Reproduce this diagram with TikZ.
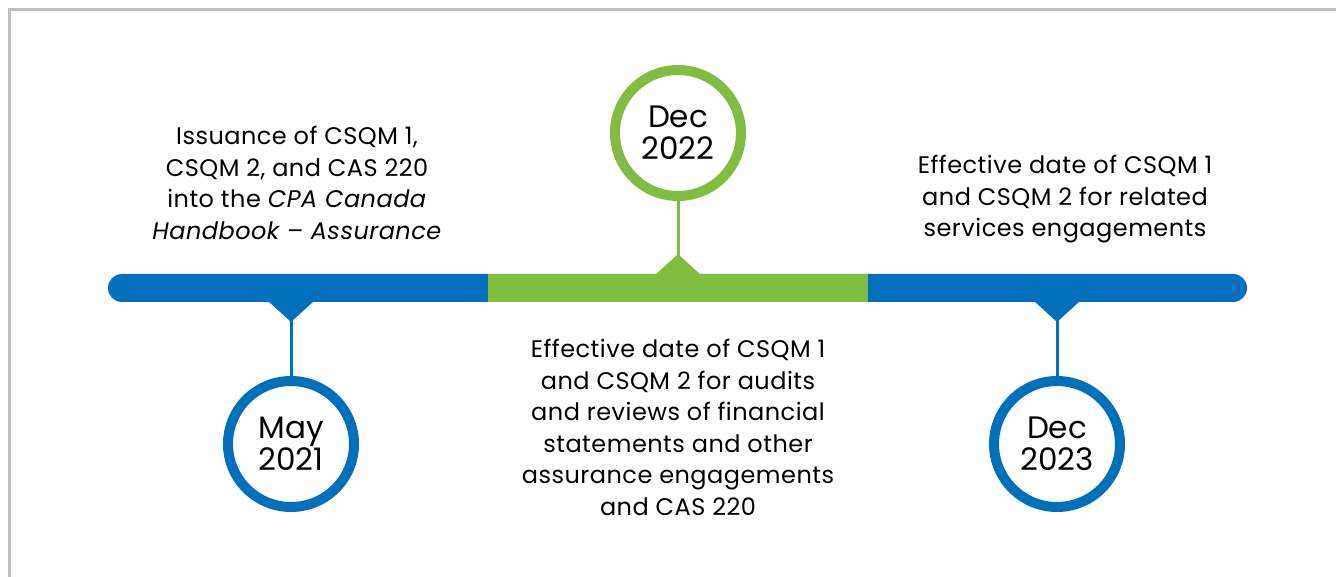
\documentclass[tikz,border=0pt]{standalone}
\usepackage{fontspec}
\setmainfont{Poppins}
\definecolor{tlblue}{RGB}{0,112,186}
\definecolor{tlgreen}{RGB}{128,189,65}
\definecolor{framegray}{RGB}{192,192,192}
\begin{document}
\begin{tikzpicture}[x=1pt,y=-1pt,
  datering/.style={circle, draw=#1, line width=10pt, fill=white,
    minimum size=126pt, inner sep=0pt, align=center,
    font=\fontsize{31}{32}\selectfont},
  stem/.style={draw=#1, line width=3pt},
  note/.style={align=center, inner sep=0pt, anchor=north,
    font=\fontsize{24}{31.5}\selectfont\addfontfeatures{LetterSpace=2}}]
\useasboundingbox (0,0) rectangle (1336,577);
% frame
\draw[framegray, line width=3pt] (9.5,577) -- (9.5,9.5) -- (1336,9.5);
% timeline bar
\fill[tlblue, rounded corners=14pt] (108,274) rectangle (1247,302);
\fill[tlgreen] (488,274) rectangle (868,302);
% pointers
\fill[tlblue] (268,301) -- (314,301) -- (291,322) -- cycle;
\fill[tlblue] (1034,301) -- (1080,301) -- (1057,322) -- cycle;
\fill[tlgreen] (655,275) -- (701,275) -- (678,254) -- cycle;
\coordinate (p1) at (291,320);
\coordinate (p2) at (678,256);
\coordinate (p3) at (1057,320);
% date circles
\node[datering=tlblue] (c1) at (291,444) {May\\2021};
\node[datering=tlgreen] (c2) at (678,133) {Dec\\2022};
\node[datering=tlblue] (c3) at (1057,444) {Dec\\2023};
\draw[stem=tlblue] (p1) -- (c1.north);
\draw[stem=tlgreen] (p2) -- (c2.south);
\draw[stem=tlblue] (p3) -- (c3.north);
% descriptions
\node[note] (t1) at (297,126) {Issuance of CSQM 1,\\CSQM 2, and CAS 220\\into the \textit{CPA Canada}\\\textit{Handbook – Assurance}};
\node[note] (t2) at (678,339) {Effective date of CSQM 1\\and CSQM 2 for audits\\and reviews of financial\\statements and other\\assurance engagements\\and CAS 220};
\node[note] (t3) at (1065,155) {Effective date of CSQM 1\\and CSQM 2 for related\\services engagements};
\end{tikzpicture}
\end{document}
